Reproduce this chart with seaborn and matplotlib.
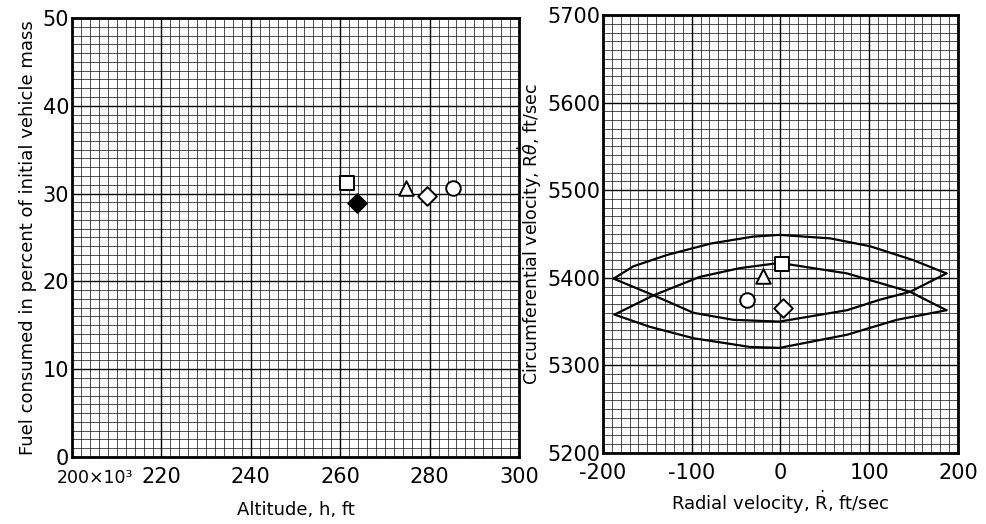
import matplotlib
matplotlib.use("Agg")
import matplotlib.pyplot as plt
import matplotlib.transforms as mtransforms
import seaborn as sns
import pandas as pd
from matplotlib.ticker import MultipleLocator

# ---- data: left panel (fuel consumed vs altitude) ----
alt_kft = [261.5, 263.8, 274.7, 279.4, 285.2]
fuel_pct = [31.2, 28.9, 30.6, 29.7, 30.6]
left_markers = ["s", "D", "^", "D", "o"]
left_filled = [False, True, False, False, False]

left_xticks = [200, 220, 240, 260, 280, 300]
left_xticklabels = ["200×10³", "220", "240", "260", "280", "300"]
left_yticks = [0, 10, 20, 30, 40, 50]

# ---- data: right panel (circumferential vs radial velocity) ----
rdot = [2, -20, -38, 2.5]
rtheta = [5416, 5402, 5375, 5366]
right_markers = ["s", "^", "o", "D"]

u1_x = [-188, -166, -128, -79, -31, -1, 56, 101, 150, 187]
u1_y = [5399, 5413, 5426, 5439, 5447, 5449, 5445, 5436, 5420, 5405]
u2_x = [-188, -143, -98, -53, -1, 75, 112, 146, 187]
u2_y = [5399, 5380, 5360, 5352, 5350, 5363, 5375, 5384, 5405]
l1_x = [-187, -143, -91, -46, -1, 75, 146, 187]
l1_y = [5358, 5380, 5401, 5411, 5417, 5405, 5384, 5363]
l2_x = [-187, -147, -98, -34, -1, 75, 131, 187]
l2_y = [5358, 5344, 5331, 5321, 5320, 5335, 5352, 5363]

right_xticks = [-200, -100, 0, 100, 200]
right_yticks = [5200, 5300, 5400, 5500, 5600, 5700]

sns.set_theme(style="white")
plt.rcParams["font.family"] = ["DejaVu Sans"]
plt.rcParams["axes.unicode_minus"] = False

fig = plt.figure(figsize=(9.87, 5.24), dpi=100)
ax1 = fig.add_axes([0.0730, 0.1279, 0.4529, 0.8378])
ax2 = fig.add_axes([0.6109, 0.1355, 0.3597, 0.8359])


def graph_paper(ax, xmaj, xmin, ymaj, ymin):
    ax.xaxis.set_major_locator(MultipleLocator(xmaj))
    ax.xaxis.set_minor_locator(MultipleLocator(xmin))
    ax.yaxis.set_major_locator(MultipleLocator(ymaj))
    ax.yaxis.set_minor_locator(MultipleLocator(ymin))
    ax.grid(which="minor", color="black", linewidth=0.6, alpha=0.8)
    ax.grid(which="major", color="black", linewidth=1.0)
    ax.set_axisbelow(True)
    for s in ax.spines.values():
        s.set_color("black")
        s.set_linewidth(2)
    ax.tick_params(which="both", length=0, labelsize=15, colors="black")
    ax.tick_params(axis="x", pad=7)
    ax.tick_params(axis="y", pad=2)


# ---- left panel ----
df_left = pd.DataFrame({"alt": alt_kft, "fuel": fuel_pct})
for i in range(len(alt_kft)):
    sns.scatterplot(data=df_left.iloc[[i]], x="alt", y="fuel", ax=ax1,
                    marker=left_markers[i], s=110 if left_markers[i] != "D" else 90,
                    facecolor="black" if left_filled[i] else "white",
                    edgecolor="black", linewidth=1.4, zorder=5)
ax1.set_xlim(200, 300)
ax1.set_ylim(0, 50)
graph_paper(ax1, 10, 2, 5, 1)
ax1.set_xticks(left_xticks)
ax1.set_xticklabels(left_xticklabels)
ax1.set_yticks(left_yticks)
# first x label sits to the right of its tick, as in the reference
first = ax1.get_xticklabels()[0]
first.set_horizontalalignment("left")
first.set_fontsize(12.5)
first.set_transform(first.get_transform() +
                    mtransforms.ScaledTranslation(-15 / 100, -2 / 100, fig.dpi_scale_trans))
ax1.set_xlabel("Altitude, h, ft", fontsize=13, color="black", labelpad=10)
ax1.set_ylabel("Fuel consumed in percent of initial vehicle mass", fontsize=13,
               color="black", labelpad=4)

# ---- right panel ----
for cx, cy in [(u1_x, u1_y), (u2_x, u2_y), (l1_x, l1_y), (l2_x, l2_y)]:
    sns.lineplot(x=cx, y=cy, ax=ax2, color="black", linewidth=1.6,
                 sort=False, estimator=None, zorder=4)
df_right = pd.DataFrame({"rdot": rdot, "rtheta": rtheta})
for i in range(len(rdot)):
    sns.scatterplot(data=df_right.iloc[[i]], x="rdot", y="rtheta", ax=ax2,
                    marker=right_markers[i], s=110 if right_markers[i] != "D" else 90,
                    facecolor="white", edgecolor="black", linewidth=1.4, zorder=5)
ax2.set_xlim(-200, 200)
ax2.set_ylim(5200, 5700)
graph_paper(ax2, 50, 10, 50, 10)
ax2.set_xticks(right_xticks)
ax2.set_yticks(right_yticks)
ax2.set_xlabel(r"Radial velocity, $\dot{\mathrm{R}}$, ft/sec", fontsize=13,
               color="black", labelpad=4)
ax2.set_ylabel(r"Circumferential velocity, $\mathrm{R}\dot{\theta}$, ft/sec",
               fontsize=12.5, color="black", labelpad=2)

fig.savefig("out.png", dpi=100)
